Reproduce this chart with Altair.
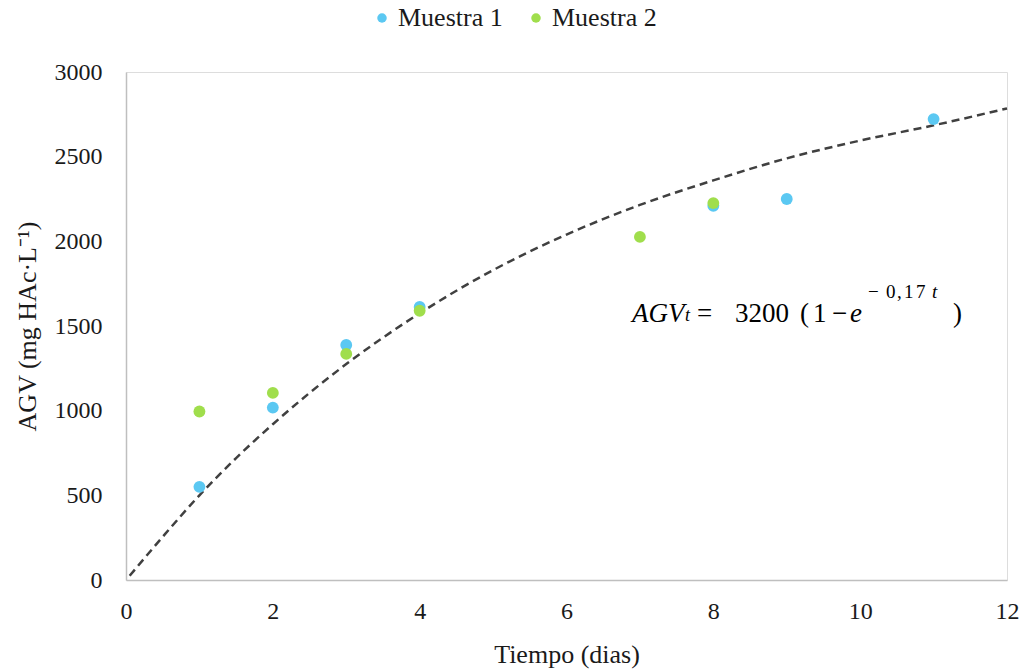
import altair as alt
import pandas as pd

# --- data ---
days_m1 = [1, 2, 3, 4, 8, 9, 11]
agv_m1 = [550, 1018, 1388, 1612, 2210, 2250, 2722]
days_m2 = [1, 2, 3, 4, 7, 8]
agv_m2 = [995, 1105, 1335, 1590, 2026, 2226]

# dashed fitted curve
curve_t = [0.05, 0.5, 1, 1.5, 2, 3, 4, 5, 6, 7, 8, 9, 10, 11, 12]
curve_v = [25, 255, 500, 720, 920, 1275, 1575, 1830, 2040, 2215, 2360, 2490, 2595, 2685, 2785]

series_names = ["Muestra 1", "Muestra 2"]
series_colors = ["#5BC8F2", "#A0DE4C"]

x_ticks = [0, 2, 4, 6, 8, 10, 12]
y_ticks = [0, 500, 1000, 1500, 2000, 2500, 3000]

# equation annotation anchor (data coordinates)
eq_x = 6.838
eq_y = 1524

FONT = "Liberation Serif"

pts = pd.DataFrame(
    {"t": days_m1 + days_m2,
     "agv": agv_m1 + agv_m2,
     "serie": ["Muestra 1"] * len(days_m1) + ["Muestra 2"] * len(days_m2),
     "order": [0] * len(days_m1) + [1] * len(days_m2)}
)
curve = pd.DataFrame({"t": curve_t, "agv": curve_v})

xscale = alt.Scale(domain=[0, 12], nice=False, zero=True)
yscale = alt.Scale(domain=[0, 3000], nice=False)

xaxis = alt.Axis(values=x_ticks, format="d", title="Tiempo (dias)", grid=False, ticks=False,
                 labelFlush=False,
                 domainColor="#BFBFBF", domainWidth=1.5,
                 labelFont=FONT, labelFontSize=24, labelColor="#1a1a1a", labelPadding=19,
                 titleFont=FONT, titleFontSize=26, titleFontWeight="normal",
                 titleColor="#1a1a1a", titlePadding=18)
yaxis = alt.Axis(values=y_ticks, format="d", title="AGV (mg HAc·L⁻¹)", grid=False, ticks=False,
                 labelFlush=False,
                 domainColor="#BFBFBF", domainWidth=1.5,
                 labelFont=FONT, labelFontSize=24, labelColor="#1a1a1a", labelPadding=24,
                 titleFont=FONT, titleFontSize=26, titleFontWeight="normal",
                 titleColor="#1a1a1a", titlePadding=14)

line = alt.Chart(curve).mark_line(
    color="#404040", strokeWidth=2.5, strokeDash=[8, 5], interpolate="monotone"
).encode(
    x=alt.X("t:Q", scale=xscale, axis=xaxis),
    y=alt.Y("agv:Q", scale=yscale, axis=yaxis),
)

points = alt.Chart(pts).mark_point(filled=True, opacity=1, size=140, shape="circle").encode(
    x=alt.X("t:Q", scale=xscale),
    y=alt.Y("agv:Q", scale=yscale),
    color=alt.Color("serie:N",
                    scale=alt.Scale(domain=series_names, range=series_colors),
                    legend=alt.Legend(title=None, orient="none", direction="horizontal",
                                      legendX=243, legendY=-67,
                                      labelFont=FONT, labelFontSize=26, labelColor="#1a1a1a",
                                      symbolType="circle", symbolSize=90, symbolStrokeWidth=0,
                                      labelOffset=3, columnPadding=20)),
    order=alt.Order("order:Q"),
)

# equation pieces: (text, dx, dy, size, italic)
eq_pieces = [
    ("AGV", 4, 0, 27, True),
    ("t", 57, -1, 18, True),
    ("=", 69, 0, 27, False),
    ("3200", 107, 0, 27, False),
    ("(", 172, 0, 27, False),
    ("1", 185, 0, 27, False),
    ("−", 204, 0, 27, False),
    ("e", 222, 0, 27, True),
    ("−", 240, -24, 19, False),
    ("0", 258, -24, 19, False),
    (",", 269, -24, 19, False),
    ("1", 276, -24, 19, False),
    ("7", 288, -24, 19, False),
    ("t", 304, -24, 19, True),
    (")", 325, 0, 27, False),
]
eq_df = pd.DataFrame({"x": [eq_x], "y": [eq_y]})
eq_layers = []
for txt, dx, dy, size, italic in eq_pieces:
    eq_layers.append(
        alt.Chart(eq_df).mark_text(
            text=txt, align="left", baseline="alphabetic", dx=dx, dy=dy,
            font=FONT, fontSize=size, fontStyle="italic" if italic else "normal",
            color="#000000",
        ).encode(x=alt.X("x:Q", scale=xscale), y=alt.Y("y:Q", scale=yscale))
    )

chart = alt.layer(line, points, *eq_layers).properties(
    width=881, height=508,
    padding={"left": 126, "top": 72, "right": 22, "bottom": 90},
    autosize="none",
).configure_view(stroke=None).configure(background="white")

chart.save("out.html", embed_options={"renderer": "svg", "actions": False})
